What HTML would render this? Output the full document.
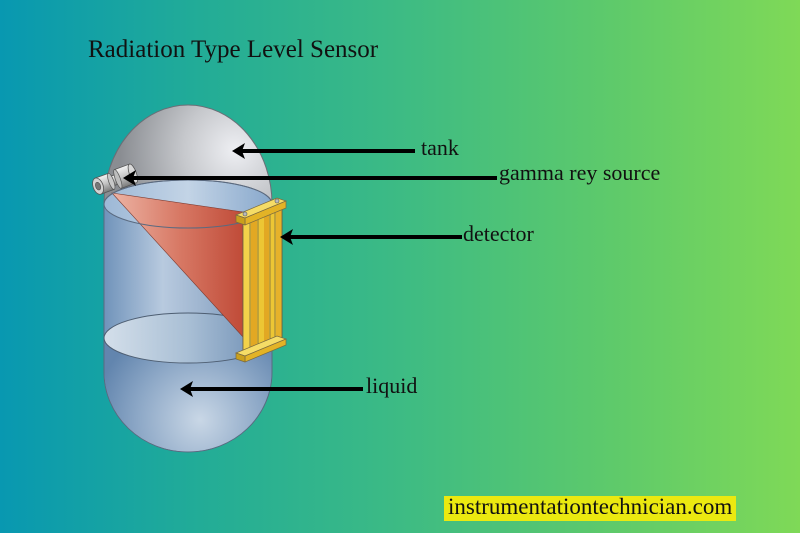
<!DOCTYPE html>
<html>
<head>
<meta charset="utf-8">
<style>
  html,body{margin:0;padding:0;}
  body{width:800px;height:533px;overflow:hidden;}
  svg{display:block;}
  text{font-family:"Liberation Serif","Times New Roman",serif;fill:#111;}
</style>
</head>
<body>
<svg width="800" height="533" viewBox="0 0 800 533" xmlns="http://www.w3.org/2000/svg">
  <defs>
    <linearGradient id="bg" x1="0" y1="0" x2="1" y2="0">
      <stop offset="0" stop-color="#0898b1"/>
      <stop offset="0.25" stop-color="#22ac97"/>
      <stop offset="0.5" stop-color="#3dbb84"/>
      <stop offset="0.75" stop-color="#5cc96c"/>
      <stop offset="1" stop-color="#7fd957"/>
    </linearGradient>
    <linearGradient id="body" x1="104" y1="0" x2="272" y2="0" gradientUnits="userSpaceOnUse">
      <stop offset="0" stop-color="#7093ba"/>
      <stop offset="0.35" stop-color="#b8cadf"/>
      <stop offset="0.6" stop-color="#9cb3ce"/>
      <stop offset="1" stop-color="#6285af"/>
    </linearGradient>
    <radialGradient id="liq" cx="200" cy="420" r="105" gradientUnits="userSpaceOnUse">
      <stop offset="0" stop-color="#c9d7e6"/>
      <stop offset="0.6" stop-color="#8ca7c6"/>
      <stop offset="1" stop-color="#6285ae"/>
    </radialGradient>
    <linearGradient id="topell" x1="104" y1="0" x2="272" y2="0" gradientUnits="userSpaceOnUse">
      <stop offset="0" stop-color="#9db8d6"/>
      <stop offset="0.5" stop-color="#c3d4e6"/>
      <stop offset="1" stop-color="#88a8cc"/>
    </linearGradient>
    <linearGradient id="liqell" x1="104" y1="0" x2="272" y2="0" gradientUnits="userSpaceOnUse">
      <stop offset="0" stop-color="#d4dfea"/>
      <stop offset="0.5" stop-color="#a9bfd5"/>
      <stop offset="1" stop-color="#6a8bb2"/>
    </linearGradient>
    <radialGradient id="dome" cx="235" cy="150" r="115" gradientUnits="userSpaceOnUse">
      <stop offset="0" stop-color="#eeeff3"/>
      <stop offset="0.45" stop-color="#c6c8cc"/>
      <stop offset="1" stop-color="#8a8d92"/>
    </radialGradient>
    <linearGradient id="red" x1="112" y1="0" x2="243" y2="0" gradientUnits="userSpaceOnUse">
      <stop offset="0" stop-color="#ecb3a4"/>
      <stop offset="0.5" stop-color="#d87a66"/>
      <stop offset="1" stop-color="#c04b38"/>
    </linearGradient>
    <linearGradient id="metal" x1="0" y1="0" x2="0" y2="1">
      <stop offset="0" stop-color="#f2f2f2"/>
      <stop offset="0.5" stop-color="#c4c4c4"/>
      <stop offset="1" stop-color="#7a7a7a"/>
    </linearGradient>
  </defs>

  <rect x="0" y="0" width="800" height="533" fill="url(#bg)"/>

  <!-- tank body -->
  <path d="M104,204 L104,372 A84,80 0 0 0 272,372 L272,204 Z" fill="url(#body)" stroke="#5a6a80" stroke-width="1"/>
  <path d="M104.5,338 L104.5,372 A83.5,79.5 0 0 0 271.5,372 L271.5,338 Z" fill="url(#liq)"/>
  <!-- top ellipse interior -->
  <ellipse cx="188" cy="204" rx="84" ry="24" fill="url(#topell)"/>
  <!-- dome -->
  <path d="M104,204 A84,99 0 0 1 272,204 A84,24 0 0 0 104,204 Z" fill="url(#dome)" stroke="#6a6e76" stroke-width="1"/>
  <!-- liquid surface -->
  <ellipse cx="188" cy="338" rx="84" ry="25" fill="url(#liqell)" stroke="#4e5e72" stroke-width="1"/>
  <!-- radiation beam -->
  <polygon points="112,193 243,212 243,337" fill="url(#red)" stroke="#7a3a30" stroke-width="0.6"/>
  <!-- top ellipse stroke -->
  <ellipse cx="188" cy="204" rx="84" ry="24" fill="none" stroke="#5a6a80" stroke-width="1"/>

  <!-- gamma source -->
  <g transform="rotate(-20 115 180)">
    <rect x="118" y="170" width="16" height="20" fill="url(#metal)" stroke="#555" stroke-width="0.8"/>
    <ellipse cx="134" cy="180" rx="3.5" ry="10" fill="#d8d8d8" stroke="#555" stroke-width="0.8"/>
    <rect x="110" y="175" width="9" height="10" fill="url(#metal)" stroke="#555" stroke-width="0.8"/>
    <ellipse cx="118" cy="180" rx="2.5" ry="10" fill="#bdbdbd" stroke="#555" stroke-width="0.7"/>
    <rect x="97" y="171.5" width="14" height="17" fill="url(#metal)" stroke="#555" stroke-width="0.8"/>
    <ellipse cx="111" cy="180" rx="2.5" ry="8.5" fill="#c8c8c8" stroke="#555" stroke-width="0.7"/>
    <ellipse cx="97" cy="180" rx="5" ry="8.5" fill="#d2d2d2" stroke="#555" stroke-width="0.8"/>
    <ellipse cx="97" cy="180" rx="2.5" ry="4" fill="#777" stroke="#444" stroke-width="0.5"/>
  </g>

  <!-- detector -->
  <polygon points="243,220 282,204 282,340 243,356" fill="#ecc634" stroke="#6a6040" stroke-width="0.8"/>
  <rect x="243" y="216" width="7" height="140" fill="#f3d24a"/>
  <line x1="250" y1="218" x2="250" y2="354" stroke="#7a6a40" stroke-width="0.8"/>
  <rect x="251" y="214" width="6" height="140" fill="#e2a823"/>
  <line x1="258" y1="214" x2="258" y2="350" stroke="#7a6a40" stroke-width="0.8"/>
  <rect x="264" y="210" width="5" height="136" fill="#e2a823"/>
  <line x1="270" y1="209" x2="270" y2="346" stroke="#7a6a40" stroke-width="0.8"/>
  <line x1="275" y1="207" x2="275" y2="343" stroke="#7a6a40" stroke-width="0.8"/>
  <rect x="276" y="205" width="6" height="136" fill="#e6b22a"/>
  <polygon points="243,220 282,204 282,340 243,356" fill="none" stroke="#6a6040" stroke-width="0.8"/>
  <!-- top bar -->
  <polygon points="236,215 277,198 286,201 245,218" fill="#f5dc66" stroke="#7a6a40" stroke-width="0.7"/>
  <polygon points="245,218 286,201 286,208 245,225" fill="#e3b326" stroke="#7a6a40" stroke-width="0.7"/>
  <polygon points="236,215 245,218 245,225 236,222" fill="#caa01c" stroke="#7a6a40" stroke-width="0.7"/>
  <circle cx="245" cy="214" r="2" fill="#bbb" stroke="#555" stroke-width="0.6"/>
  <circle cx="277" cy="201" r="2" fill="#bbb" stroke="#555" stroke-width="0.6"/>
  <!-- bottom bar -->
  <polygon points="236,353 277,336 286,339 245,356" fill="#f5dc66" stroke="#7a6a40" stroke-width="0.7"/>
  <polygon points="245,356 286,339 286,345 245,362" fill="#e3b326" stroke="#7a6a40" stroke-width="0.7"/>
  <polygon points="236,353 245,356 245,362 236,359" fill="#caa01c" stroke="#7a6a40" stroke-width="0.7"/>

  <!-- arrows -->
  <g fill="#000" stroke="none">
    <rect x="240" y="149" width="175" height="4"/>
    <polygon points="232,151 245,143 242,151 245,159"/>
    <rect x="131" y="176" width="366" height="4"/>
    <polygon points="123,178 136,170 133,178 136,186"/>
    <rect x="288" y="235" width="174" height="4"/>
    <polygon points="280,237 293,229 290,237 293,245"/>
    <rect x="188" y="387" width="175" height="4"/>
    <polygon points="180,389 193,381 190,389 193,397"/>
  </g>

  <!-- labels -->
  <text x="88" y="57" font-size="25">Radiation Type Level Sensor</text>
  <text x="421" y="155" font-size="22">tank</text>
  <text x="499" y="180" font-size="22">gamma rey source</text>
  <text x="463" y="241" font-size="22">detector</text>
  <text x="366" y="393" font-size="22">liquid</text>

  <rect x="444" y="496" width="292" height="25" fill="#ebe910"/>
  <text x="448" y="514" font-size="23">instrumentationtechnician.com</text>
</svg>
</body>
</html>
